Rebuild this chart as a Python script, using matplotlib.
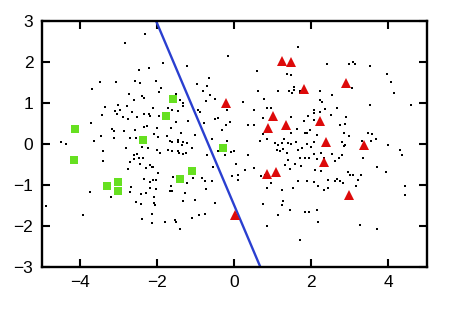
import numpy as np
import matplotlib
matplotlib.use("Agg")
import matplotlib.pyplot as plt

# unlabeled samples (small black dots)
dots = [
    (-2.31, 2.68), (-2.83, 2.46), (-2.47, 1.80), (-2.21, 1.85), (-1.84, 1.97), (-3.48, 1.50),
    (-3.06, 1.50), (-2.57, 1.53), (-2.45, 1.48), (-2.02, 1.53), (-3.69, 1.34), (-1.95, 1.27),
    (-1.91, 1.36), (-2.74, 1.22), (-2.40, 1.17), (-2.34, 1.12), (-2.60, 1.07), (-3.02, 0.96),
    (-2.79, 0.93), (-2.10, 0.88), (-3.35, 0.89), (-3.09, 0.81), (-2.97, 0.83), (-2.66, 0.79),
    (-2.34, 0.74), (-2.20, 0.72), (-2.18, 0.69), (-3.44, 0.70), (-3.04, 0.72), (-2.90, 0.65),
    (-2.76, 0.62), (-2.52, 0.65), (-1.96, 0.67), (-1.86, 0.75), (-3.71, 0.51), (-3.17, 0.37),
    (-3.12, 0.32), (-2.86, 0.32), (-2.57, 0.33), (-2.33, 0.41), (-2.26, 0.44), (-2.00, 0.38),
    (-3.46, 0.20), (-3.13, 0.14), (-2.71, 0.15), (-2.55, 0.14), (-2.08, 0.24), (-1.99, 0.16),
    (-1.75, 0.20),
    (-0.16, 2.15), (-1.22, 1.89), (-0.66, 1.62), (-0.96, 1.47), (-0.70, 1.42), (-0.82, 1.29),
    (-1.51, 1.22), (-1.41, 1.08), (-1.32, 1.01), (-1.34, 0.93), (-0.74, 1.05), (-0.50, 1.10),
    (-0.64, 1.19), (-0.93, 0.83), (-0.89, 0.77), (-1.45, 0.80), (-1.71, 0.87), (-1.62, 0.82),
    (-0.19, 0.83), (0.22, 1.02), (0.59, 1.78), (0.62, 1.28), (0.77, 1.10), (0.51, 0.84),
    (0.86, 0.88), (0.95, 0.87), (1.14, 1.28), (1.43, 1.28), (1.49, 1.25), (1.55, 1.31),
    (1.36, 1.70), (1.48, 1.67), (-0.49, 0.60), (-0.41, 0.64), (-0.12, 0.53), (-0.21, 0.46),
    (-0.32, 0.34), (-0.79, 0.50), (-1.20, 0.55), (-1.52, 0.54), (-1.65, 0.38), (0.36, 0.47),
    (0.52, 0.46), (0.76, 0.63), (0.74, 0.24), (-1.03, 0.23), (-1.38, 0.28), (-1.45, 0.10),
    (-0.58, 0.11), (0.85, 0.12), (1.29, 0.11), (1.47, 0.65),
    (1.66, 2.37), (2.40, 1.94), (2.99, 1.94), (3.09, 2.00), (3.13, 1.96), (3.53, 1.89),
    (3.96, 1.71), (4.08, 1.50), (4.16, 1.24), (4.59, 0.96), (3.53, 0.94), (3.07, 1.37),
    (1.56, 1.39), (1.72, 1.25), (1.70, 1.29), (2.23, 1.30), (2.53, 1.19), (2.23, 1.07),
    (2.27, 1.03), (2.68, 0.87), (2.06, 0.83), (2.08, 0.76), (2.23, 0.78), (2.36, 0.85),
    (2.52, 0.70), (2.90, 0.66), (1.92, 0.67), (1.80, 0.57), (2.07, 0.59), (2.75, 0.46),
    (2.87, 0.49), (1.62, 0.36), (1.84, 0.26), (1.90, 0.26), (2.14, 0.22), (1.96, 0.34),
    (1.48, 0.28), (2.85, 0.26), (2.99, 0.19), (3.47, 0.27), (3.57, 0.25), (3.67, 0.12),
    (3.33, 0.07), (3.55, 0.07),
    (-4.51, 0.06), (-4.38, 0.00), (-3.65, 0.07), (-3.40, -0.17), (-3.40, -0.42), (-2.82, -0.10),
    (-2.70, -0.45), (-2.60, -0.27), (-2.53, -0.25), (-2.60, -0.36), (-2.46, -0.34), (-2.38, -0.34),
    (-2.40, -0.08), (-2.23, -0.10), (-2.00, -0.14), (-1.94, -0.23), (-1.73, -0.15), (-2.76, -0.60),
    (-2.44, -0.49), (-2.29, -0.59), (-2.19, -0.50), (-2.14, -0.55), (-2.11, -0.55), (-1.97, -0.71),
    (-2.34, -0.85), (-2.10, -0.87), (-2.04, -0.87), (-2.18, -0.93), (-2.19, -1.07), (-2.04, -1.10),
    (-2.67, -1.05), (-2.70, -1.17), (-3.75, -1.16), (-3.20, -1.29), (-2.41, -1.22), (-2.30, -1.20),
    (-2.09, -1.29), (-2.54, -1.41), (-2.42, -1.46), (-2.09, -1.45), (-2.05, -1.48), (-4.89, -1.50),
    (-3.93, -1.73), (-2.40, -1.82), (-2.14, -1.71), (-2.13, -1.92), (-1.79, -1.90),
    (-1.67, 0.07), (-1.61, 0.05), (-1.45, 0.05), (-1.36, -0.02), (-1.32, 0.05), (-1.23, 0.02),
    (-1.62, -0.18), (-1.45, -0.18), (-1.43, -0.22), (-1.32, -0.24), (-1.26, -0.22), (-1.10, -0.10),
    (-1.71, -0.15), (-0.71, -0.28), (-0.56, -0.55), (-0.41, -0.18), (-0.25, -0.28), (-0.08, -0.20),
    (0.00, -0.16), (-0.19, 0.07), (0.37, -0.26), (0.05, -0.49), (0.29, -0.63), (0.52, -0.59),
    (-0.06, -0.77), (0.10, -0.76), (0.11, -0.87), (0.68, 0.08), (1.07, 0.02), (1.15, -0.02),
    (1.24, 0.02), (1.41, 0.02), (1.11, -0.14), (1.20, -0.18), (1.27, -0.11), (1.37, -0.22),
    (1.41, -0.38), (1.33, -0.50), (1.44, -0.60), (0.79, -0.76), (0.96, -0.95), (0.84, -1.07),
    (0.70, -0.79), (1.24, -1.11), (1.28, -1.40), (1.23, -1.48), (1.44, -1.61), (1.54, -1.07),
    (1.15, -1.72), (0.74, -1.46), (0.85, -2.01), (-1.60, -0.81), (-1.65, -1.03), (-1.68, -1.15),
    (-1.61, -1.15), (-1.23, -0.95), (-1.28, -1.20), (-1.32, -1.38), (-1.03, -1.36), (-1.08, -0.83),
    (-0.84, -0.83), (-0.77, -0.91), (-0.74, -1.09), (-0.58, -0.91), (-0.49, -1.44), (-0.77, -1.71),
    (-0.91, -1.74), (-1.10, -1.80), (-1.55, -1.85), (-1.52, -1.89), (-1.41, -2.07),
    (1.48, 0.00), (1.61, 0.05), (1.65, -0.14), (1.76, -0.10), (1.88, 0.00), (2.00, -0.08),
    (2.08, 0.04), (1.70, -0.33), (1.85, -0.33), (1.94, -0.34), (2.15, -0.36), (2.07, -0.24),
    (2.26, -0.22), (2.33, -0.33), (1.59, -0.49), (1.74, -0.54), (2.09, -0.63), (2.25, -0.67),
    (2.54, -0.24), (2.80, -0.26), (2.73, -0.34), (2.61, -0.41), (2.85, -0.06), (2.80, 0.05),
    (2.89, -0.02), (3.99, -0.03), (4.30, -0.14), (4.35, -0.26), (3.34, -0.34), (3.30, -0.75),
    (3.21, -0.87), (3.16, -1.03), (3.70, -0.57), (3.93, -0.69), (2.96, -0.69), (3.02, -0.76),
    (3.08, -0.75), (2.83, -0.95), (2.74, -0.89), (2.67, -0.85), (2.63, -0.91), (2.43, -0.87),
    (2.44, -1.07), (2.33, -1.11), (2.17, -1.03), (2.07, -0.93), (1.89, -0.91), (1.65, -0.91),
    (4.43, -1.03), (4.43, -1.24), (1.85, -1.66), (1.94, -1.66), (2.15, -1.62), (2.18, -1.91),
    (3.26, -1.98), (3.70, -2.06), (1.70, -2.34),
]
dot_x = [p[0] for p in dots]
dot_y = [p[1] for p in dots]

# class 1 (green squares)
sq_x = [-4.13, -4.15, -3.30, -3.03, -3.01, -2.37, -1.76, -1.58, -1.42, -1.09, -0.28]
sq_y = [0.37, -0.39, -1.02, -0.92, -1.15, 0.10, 0.69, 1.10, -0.85, -0.66, -0.09]

# class 2 (red triangles)
tri_x = [-0.21, 1.24, 1.47, 1.82, 2.91, 1.02, 0.88, 1.34, 2.24, 2.38, 3.37, 2.34, 0.85, 1.09, 2.98, 0.01]
tri_y = [0.99, 2.02, 1.99, 1.33, 1.49, 0.69, 0.39, 0.47, 0.57, 0.04, -0.03, -0.45, -0.72, -0.69, -1.24, -1.74]

# separating line end points
line_x = [-2.03, 0.68]
line_y = [3.0, -3.0]

plt.rcParams['font.family'] = ['Liberation Sans', 'DejaVu Sans']

fig = plt.figure(figsize=(4.53, 3.12), dpi=100)
ax = fig.add_axes([0.092, 0.144, 0.850, 0.789])

ax.plot(dot_x, dot_y, 's', color='black', markersize=2.0, markeredgewidth=0)
ax.plot(line_x, line_y, '-', color='#2a3fd0', linewidth=1.7)
ax.plot(sq_x, sq_y, 's', color='#66e020', markersize=6.3, markeredgewidth=0)
ax.plot(tri_x, tri_y, '^', color='#dd0a0a', markersize=7.5, markeredgewidth=0)

ax.set_xlim(-5, 5)
ax.set_ylim(-3, 3)
ax.set_xticks([-4, -2, 0, 2, 4])
ax.set_yticks([-3, -2, -1, 0, 1, 2, 3])
ax.tick_params(direction='in', length=6, width=1.5, top=True, right=True, labelsize=12.5, pad=6)
for s in ax.spines.values():
    s.set_linewidth(1.7)

fig.savefig('out.png', dpi=100)
